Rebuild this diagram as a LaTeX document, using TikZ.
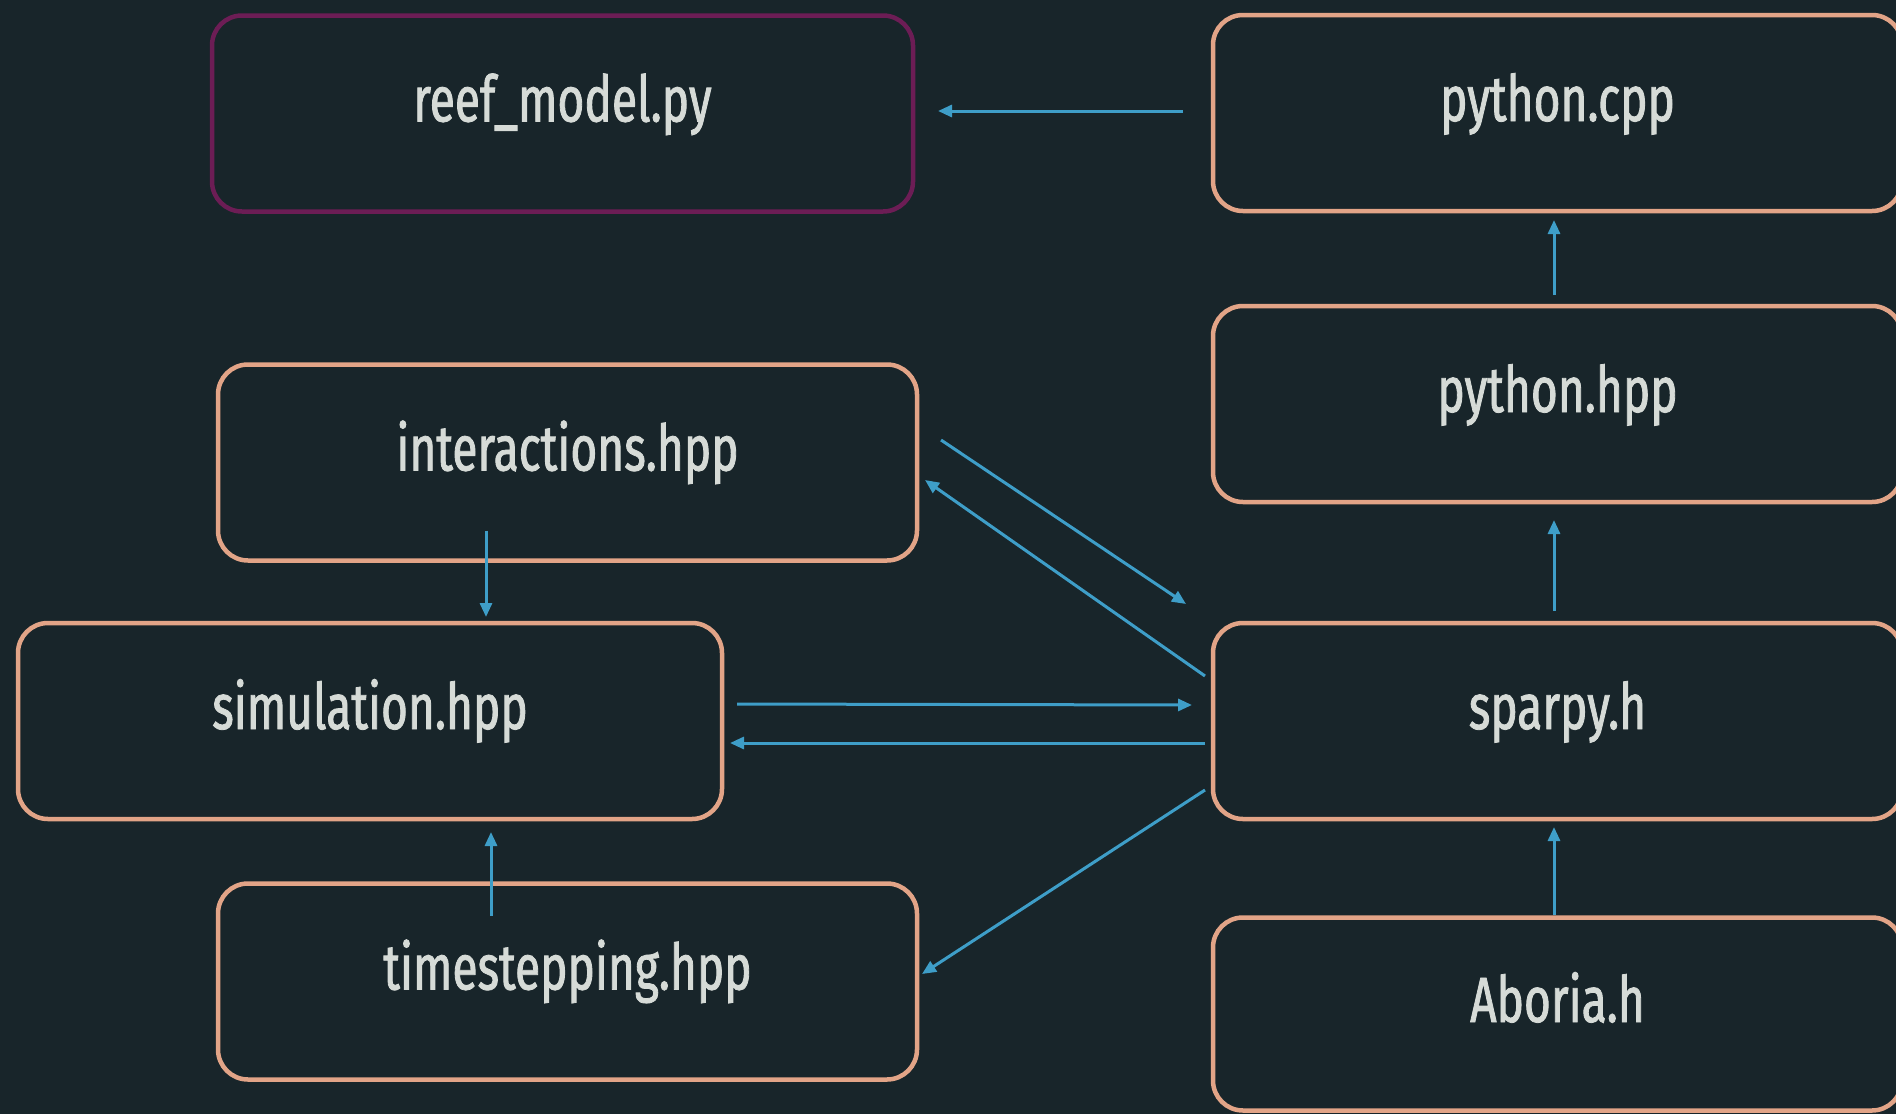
\documentclass[tikz,border=0pt]{standalone}
\usepackage{fontspec}
\usetikzlibrary{arrows.meta,calc}
\newfontfamily\lblfont{Fira Sans}[FakeStretch=0.72,FakeBold=1.3]
\definecolor{bgc}{HTML}{18252A}
\definecolor{boxorange}{HTML}{E2A487}
\definecolor{boxpurple}{HTML}{6C1D55}
\definecolor{arrowblue}{HTML}{3E9EC8}
\definecolor{txtc}{HTML}{D6DBD7}
\tikzset{
  filebox/.style={draw=boxorange, line width=4.5pt, rounded corners=30pt,
    minimum height=196pt, inner sep=0pt, outer sep=0pt,
    text height=40pt, text depth=24pt, text=txtc,
    font=\lblfont\fontsize{64}{70}\selectfont},
  mainbox/.style={filebox, draw=boxpurple},
  dep/.style={draw=arrowblue, line width=3pt, -{Triangle[length=14pt,width=12pt]}}
}
\begin{document}
\begin{tikzpicture}[x=1pt,y=-1pt]
\fill[bgc] (0,0) rectangle (1896,1114);
\useasboundingbox (0,0) rectangle (1896,1114);
\begin{scope}
\clip (0,0) rectangle (1896,1114);
\node[mainbox, minimum width=701pt] (reef)   at (562.5,113.5) {reef\_model.py};
\node[filebox, minimum width=689pt] (pycpp)  at (1557.5,113) {python.cpp};
\node[filebox, minimum width=689pt] (pyhpp)  at (1557.5,404) {python.hpp};
\node[filebox, minimum width=699pt] (inter)  at (567.5,462.5) {interactions.hpp};
\node[filebox, minimum width=704pt] (sim)    at (370,721) {simulation.hpp};
\node[filebox, minimum width=699pt] (tstep)  at (567.5,981.5) {timestepping.hpp};
\node[filebox, minimum width=689pt] (sparpy) at (1557.5,721) {sparpy.h};
\node[filebox, minimum width=689pt, minimum height=193pt] (aboria) at (1557.5,1014) {Aboria.h};
\end{scope}
\draw[dep] ($(pycpp.west)+(-30,-2)$) -- ($(reef.east)+(25,-2.5)$);
\draw[dep] ($(pyhpp.north)+(-3.5,-11)$) -- ($(pycpp.south)+(-3.5,9)$);
\draw[dep] ($(sparpy.north)+(-3.5,-12)$) -- ($(pyhpp.south)+(-3.5,18)$);
\draw[dep] ($(aboria.north)+(-3.5,-2.5)$) -- ($(sparpy.south)+(-3.5,8)$);
\draw[dep] ($(inter.east)+(24,-22.5)$) -- ($(sparpy.west)+(-27,-117)$);
\draw[dep] ($(sparpy.west)+(-8,-45)$) -- ($(inter.east)+(8,17.5)$);
\draw[dep] ($(sim.east)+(15,-17)$) -- ($(sparpy.west)+(-21,-16)$);
\draw[dep] ($(sparpy.west)+(-8,22)$) -- ($(sim.east)+(8,22)$);
\draw[dep] ($(sparpy.west)+(-8,69)$) -- ($(tstep.east)+(5,-7.5)$);
\draw[dep] ($(inter.south)+(-81.5,-30)$) -- ($(sim.north)+(116,-6)$);
\draw[dep] ($(tstep.north)+(-76.5,32)$) -- ($(sim.south)+(121,13)$);
\end{tikzpicture}
\end{document}
